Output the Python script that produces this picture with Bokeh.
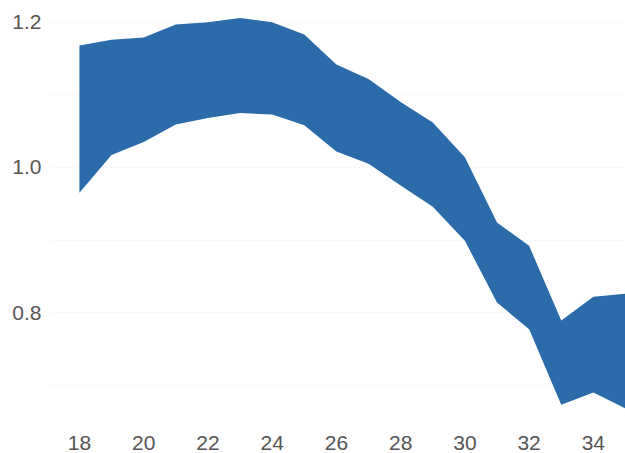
from bokeh.plotting import figure
from bokeh.models import FixedTicker, Range1d, PrintfTickFormatter
from bokeh.embed import file_html
from bokeh.resources import INLINE

x = [18, 19, 20, 21, 22, 23, 24, 25, 26, 27, 28, 29, 30, 31, 32, 33, 34, 35]
upper = [1.168, 1.176, 1.179, 1.197, 1.200, 1.206, 1.200, 1.183, 1.142, 1.122,
         1.090, 1.062, 1.014, 0.924, 0.892, 0.789, 0.822, 0.826]
lower = [0.965, 1.017, 1.035, 1.059, 1.068, 1.075, 1.073, 1.058, 1.022, 1.005,
         0.975, 0.946, 0.899, 0.814, 0.777, 0.673, 0.690, 0.668]
x_ticks = [18, 20, 22, 24, 26, 28, 30, 32, 34]
y_ticks = [0.8, 1.0, 1.2]
y_minor = [0.7, 0.9, 1.1]

p = figure(width=625, height=453, output_backend="svg", toolbar_location=None,
           x_range=Range1d(17.1, 35), y_range=Range1d(0.65, 1.230),
           min_border_left=50, min_border_right=0, min_border_top=0, min_border_bottom=32)
p.outline_line_color = None
p.background_fill_color = "white"

p.varea(x=x, y1=lower, y2=upper, fill_color="#2b6ba9")

font = "Liberation Sans"
for ax in (p.xaxis[0], p.yaxis[0]):
    ax.axis_line_color = None
    ax.major_tick_line_color = None
    ax.minor_tick_line_color = None
    ax.major_label_text_font = font
    ax.major_label_text_font_size = "21px"
    ax.major_label_text_color = "#555555"

p.xaxis.ticker = FixedTicker(ticks=x_ticks)
p.yaxis.ticker = FixedTicker(ticks=y_ticks, minor_ticks=y_minor)
p.yaxis.formatter = PrintfTickFormatter(format="%.1f")
p.xaxis.major_label_standoff = 8
p.yaxis.major_label_standoff = 3

p.xgrid.grid_line_color = None
p.ygrid.grid_line_color = "#e6e6e6"
p.ygrid.grid_line_dash = "1 3"
p.ygrid.minor_grid_line_color = "#e6e6e6"
p.ygrid.minor_grid_line_dash = "1 3"

open("out.html", "w").write(file_html(p, INLINE))
